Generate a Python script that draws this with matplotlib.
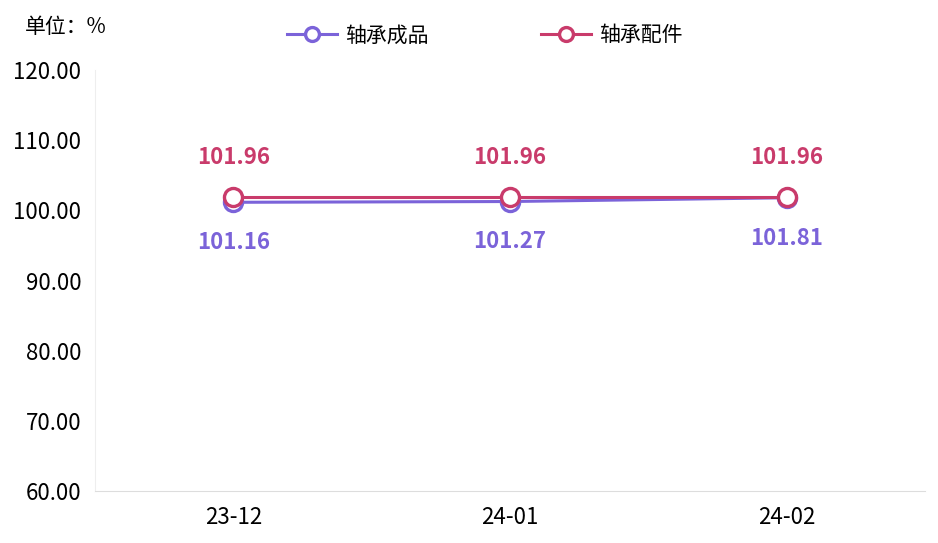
import matplotlib
matplotlib.use("Agg")
import matplotlib.pyplot as plt
from matplotlib.lines import Line2D

plt.rcParams['font.family'] = ['Noto Sans CJK SC', 'DejaVu Sans']

categories = ['23-12', '24-01', '24-02']
finished = [101.16, 101.27, 101.81]
parts = [101.96, 101.96, 101.96]
series_names = ['轴承成品', '轴承配件']
yticks = [60, 70, 80, 90, 100, 110, 120]

c_purple = '#7B63D9'
c_pink = '#C93B6B'

fig = plt.figure(figsize=(9.38, 5.43), dpi=100)
ax = fig.add_axes([0.1013, 0.0958, 0.885, 0.775])

x = list(range(len(categories)))
ax.plot(x, finished, color=c_purple, lw=2.2, marker='o', ms=13, mfc='white',
        mec=c_purple, mew=2.4, zorder=3)
ax.plot(x, parts, color=c_pink, lw=2.2, marker='o', ms=13, mfc='white',
        mec=c_pink, mew=2.4, zorder=4)

for xi, v in zip(x, finished):
    ax.annotate(f'{v:.2f}', (xi, v), xytext=(0, -29), textcoords='offset points',
                ha='center', va='center', color=c_purple, fontsize=16, fontweight='bold')
for xi, v in zip(x, parts):
    ax.annotate(f'{v:.2f}', (xi, v), xytext=(0, 28), textcoords='offset points',
                ha='center', va='center', color=c_pink, fontsize=16, fontweight='bold')

ax.set_xlim(-0.5, 2.5)
ax.set_ylim(60, 120)
ax.set_yticks(yticks)
ax.set_yticklabels([f'{t:.2f}' for t in yticks], fontsize=16)
ax.set_xticks(x)
ax.set_xticklabels(categories, fontsize=16)
ax.tick_params(axis='x', length=0, pad=11)
ax.tick_params(axis='y', length=0, pad=10)
for s in ['top', 'right']:
    ax.spines[s].set_visible(False)
ax.spines['left'].set_color('#EEEEEE')
ax.spines['bottom'].set_color('#DDDDDD')

fig.text(0.026, 0.95, '单位：%', fontsize=15, va='center', ha='left')

handles = [Line2D([0], [0], color=c, lw=2.2, marker='o', ms=10, mfc='white', mec=c, mew=2.4)
           for c in (c_purple, c_pink)]
fig.legend(handles, series_names, loc='center', bbox_to_anchor=(0.517, 0.935), ncol=2,
           frameon=False, fontsize=15, handlelength=2.4, columnspacing=5.4, handletextpad=0.4)

fig.savefig('out.png', dpi=100, facecolor='white')
